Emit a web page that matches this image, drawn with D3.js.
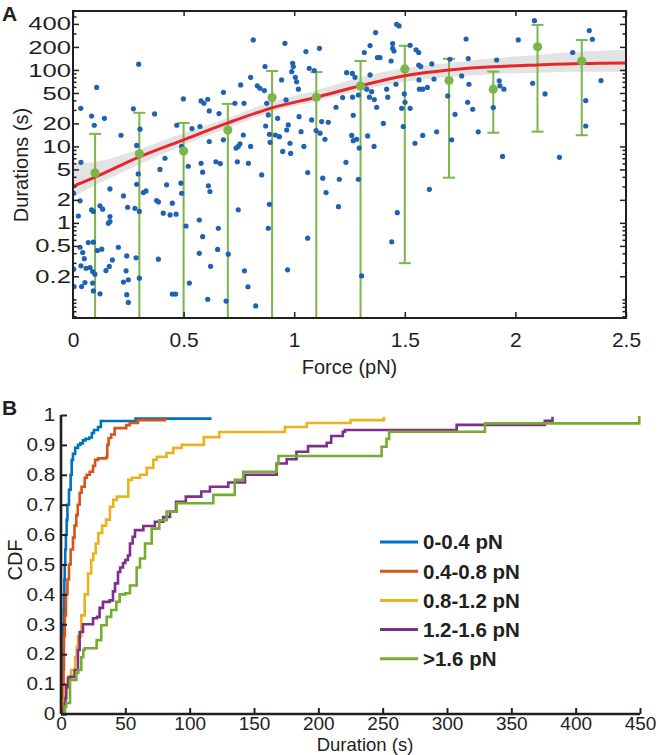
<!DOCTYPE html>
<html><head><meta charset="utf-8">
<script src="https://cdn.jsdelivr.net/npm/d3@7"></script>
<style>
body{margin:0;background:#fff}
text{font-family:"Liberation Sans",Arial,Helvetica,sans-serif;fill:#231f20}
</style>
</head><body>
<svg id="c" width="658" height="755"></svg>
<script>
// ---------- Panel A data ----------
const scatterForce = [0.035,0.084,0.096,0.107,0.142,0.036,0.217,0.273,0.297,0.288,0.303,0.369,0.469,0.499,0.491,0.521,0.538,0.574,0.579,0.592,0.609,0.616,0.616,0.660,0.680,0.680,0.732,0.758,0.773,0.737,0.747,0.755,0.770,0.793,0.803,0.803,0.815,0.833,0.845,0.865,0.868,0.871,0.876,0.883,0.888,0.891,0.915,0.925,0.933,0.943,0.948,0.958,0.963,0.966,0.973,0.981,0.984,0.989,0.993,0.996,1.005,1.011,1.019,1.022,1.031,1.044,1.053,1.068,1.079,1.091,1.099,1.114,1.117,1.124,1.139,1.154,0.416,
0.579,0.646,0.666,0.743,0.003,0.032,0.024,0.084,0.092,0.122,0.134,0.167,0.167,0.167,0.160,0.228,0.247,0.280,0.288,0.300,0.295,0.318,0.330,0.378,0.386,0.393,0.408,0.423,0.439,0.449,0.466,0.488,0.491,0.511,0.571,0.586,0.612,0.619,0.657,0.747,0.853,0.888,0.883,1.061,1.129,1.144,
0.069,0.092,0.032,0.044,0.051,0.003,0.036,0.059,0.077,0.089,0.099,0.110,0.130,0.149,0.164,0.178,0.205,0.243,0.240,0.250,0.228,0.285,0.300,0.005,0.039,0.054,0.089,0.092,0.122,0.243,0.250,0.386,0.449,0.464,0.526,0.571,0.586,0.622,0.654,0.702,0.609,0.692,0.775,0.791,0.826,0.970,1.061,
1.189,1.219,1.234,1.237,1.263,1.264,1.267,1.275,1.260,1.267,1.282,1.294,1.290,1.317,1.328,1.332,1.340,1.343,1.343,1.350,1.361,1.362,1.368,1.373,1.376,1.388,1.403,1.418,1.423,1.438,1.445,1.445,1.451,1.463,1.474,1.460,1.486,1.493,1.498,1.501,1.524,1.524,1.546,1.551,1.563,1.563,1.572,1.564,1.566,1.581,1.581,1.602,1.622,1.632,1.644,1.694,1.704,1.712,1.727,1.757,1.777,1.784,1.790,1.787,1.807,1.832,1.900,1.915,1.927,1.930,1.942,1.948,2.013,2.078,2.086,2.134,2.199,2.259,2.318,2.318,2.334,2.348,2.387,
1.204,1.200,1.290,1.305,1.441,1.466,1.611];
const scatterDuration = [31.5,25,18.9,59,23.3,6.2,14,31,119,10.3,16.8,26.6,18.9,41.8,10,5.5,17.1,18.2,39.3,36.7,41.4,29.1,11.6,26.9,51,12.2,36.7,63.7,36.7,9.5,10,10.8,14.1,6.0,10,80,247,62,57.6,53.7,111,18.5,36.7,25.8,14.4,11.3,14.1,23.3,13.4,74,8.6,223,40.5,16.4,19.1,11,8.1,95,122,111,80,70,56,24.5,15.6,10,174,105,22.2,98,16.1,192,14.9,21.1,12.4,20.7,7.0,
6.0,6.3,5.97,6.3,2.44,1.94,1.23,1.48,1.41,1.67,1.51,2.78,1.21,1.04,0.99,2.25,1.60,1.55,3.2,1.41,4.37,2.49,2.62,1.96,1.88,5.0,1.34,3.14,1.27,1.81,1.30,3.3,2.44,0.91,1.09,4.6,3.05,2.57,0.85,1.48,4.24,1.75,0.85,4.55,3.84,2.49,
0.553,0.559,0.48,0.41,0.34,0.248,0.274,0.255,0.26,0.231,0.213,0.435,0.453,0.238,0.269,0.328,0.48,0.37,0.236,0.18,0.168,0.349,0.189,0.147,0.147,0.166,0.163,0.129,0.118,0.115,0.091,0.335,0.117,0.117,0.163,0.40,0.66,0.27,0.45,0.39,0.10,0.095,0.236,0.146,0.082,0.243,0.63,
32.5,43.5,6.2,92,90,44,25.5,80,13.9,11.9,12.4,9.5,47,169,56,13.7,44,208,86,52,10,41,308,32.5,145,145,20,56,44,131,221,192,177,395,376,65,31.5,18.2,48.6,37.8,31.5,210,11,183,169,116,111,74,56,56,13.9,59,120,76,15.5,45.7,138,12.2,26.3,83.5,254,37.8,65,141,30.6,15.5,32.2,135,72,62,7.4,56,247,67,441,48.6,7.2,169,39.7,18.5,327,252,72.6,
3.72,1.63,3.72,0.203,0.565,1.36,2.75];

const binForce = [0.1,0.3,0.5,0.7,0.9,1.1,1.3,1.5,1.7,1.9,2.1,2.3];
const binMean  = [4.5,8.0,8.7,16.4,43.5,43.8,61.7,103,72.5,56,201,131];
const binUpper = [14.6,27.5,20.2,36,97,93.7,131,207,140,95,388,246];
const binLower = [0.01,0.01,0.01,0.01,0.01,0.01,0.01,0.297,3.9,15.1,15.6,14];

const fitForce    = [0,0.1,0.3,0.5,0.7,0.9,1.1,1.3,1.5,1.7,1.9,2.1,2.3,2.5];
const fitDuration = [3.0,3.96,7.3,12.2,20.3,31.9,44,62,84,100,110,116,121,123];
const bandLower   = [2.2,3.1,5.8,10.4,17.4,28.5,39,54,70,81,88,92,95,95];
const bandUpper   = [6.0,6.3,9.2,15,23.6,38.5,54,80,106,123,142,157,174,183];

const xTicksA = [0,0.5,1,1.5,2,2.5];
const yTicksA = [0.2,0.5,1,2,5,10,20,50,100,200,400];
const yMinorA = [0.06,0.07,0.08,0.09,0.1,0.3,0.4,0.6,0.7,0.8,0.9,3,4,6,7,8,9,30,40,60,70,80,90,300,500];

// ---------- Panel B data ----------
const cdfLabels = ["0-0.4 pN","0.4-0.8 pN","0.8-1.2 pN","1.2-1.6 pN",">1.6 pN"];
const cdfColors = ["#0072BD","#D95319","#EDB120","#7E2F8E","#77AC30"];
const cdfBlue = [[0,0],[0.5,0.05],[0.8,0.1],[1.0,0.15],[1.3,0.2],[1.6,0.25],[1.8,0.3],[2.1,0.35],[2.3,0.4],[2.6,0.45],[2.9,0.5],[3.3,0.55],[3.8,0.6],[4.4,0.65],[5.0,0.7],[6.2,0.75],[7.5,0.8],[8.3,0.85],[9.3,0.87],[11,0.89],[13.2,0.9],[15,0.905],[17,0.915],[19,0.92],[22,0.925],[24,0.94],[25.6,0.95],[28.8,0.96],[31,0.98],[58,0.988],[117,0.988]];
const cdfOrange = [[0,0],[1.3,0.05],[2,0.15],[2.3,0.26],[3,0.33],[3.9,0.4],[5,0.45],[6.2,0.5],[7.5,0.55],[9.3,0.59],[10.5,0.63],[11.9,0.665],[13,0.7],[14.5,0.74],[16,0.76],[18.4,0.79],[20,0.8],[22.3,0.81],[24.9,0.83],[26.5,0.85],[28.8,0.855],[35.2,0.86],[36,0.9],[37,0.923],[39,0.935],[41.7,0.956],[50.7,0.966],[53.4,0.973],[59.8,0.983],[80.8,0.993]];
const cdfYellow = [[0,0],[2.3,0.04],[2.9,0.09],[5.4,0.124],[8,0.147],[11,0.19],[12.2,0.224],[13.2,0.26],[15.8,0.33],[18.4,0.40],[21,0.47],[23.5,0.515],[25.1,0.537],[27,0.57],[29,0.605],[32,0.63],[35,0.65],[38,0.693],[40.6,0.716],[43.3,0.727],[52.3,0.783],[55,0.79],[61.4,0.80],[66.6,0.823],[71.7,0.85],[74.4,0.86],[82,0.873],[87.3,0.89],[93.8,0.90],[111,0.926],[123,0.943],[174,0.96],[191,0.973],[225,0.983],[251,0.994]];
const cdfPurple = [[0,0],[2.9,0.037],[3.5,0.053],[4.1,0.09],[5.5,0.12],[6.8,0.124],[10.6,0.147],[13.2,0.214],[14.5,0.274],[17.1,0.30],[24.9,0.32],[28,0.325],[30,0.355],[32.6,0.375],[37.8,0.38],[40.4,0.41],[42,0.437],[44.3,0.475],[46,0.49],[48.2,0.505],[50,0.515],[52,0.53],[53.6,0.57],[55.7,0.593],[57.5,0.615],[64,0.629],[73,0.643],[79.5,0.659],[84.7,0.677],[89.4,0.71],[97,0.727],[109,0.744],[115.8,0.76],[130,0.774],[143,0.80],[167.6,0.838],[175.4,0.852],[183,0.877],[192,0.896],[206.5,0.907],[210,0.93],[219,0.944],[220.7,0.95],[307.5,0.967],[376,0.981],[382,0.994]];
const cdfGreen = [[0,0],[3.1,0.024],[4.1,0.037],[7,0.114],[11.9,0.137],[13.4,0.147],[15.8,0.19],[17.3,0.214],[18.4,0.22],[27.7,0.247],[31.3,0.297],[35.5,0.325],[39,0.348],[43,0.375],[45.6,0.40],[50,0.404],[53.6,0.43],[58.8,0.49],[61.4,0.52],[65.3,0.57],[70.5,0.62],[76.4,0.648],[82.1,0.677],[90,0.705],[118.4,0.733],[135,0.783],[141.7,0.81],[167.6,0.836],[169,0.863],[249.2,0.894],[253,0.92],[255,0.944],[329.5,0.972],[449.4,0.997]];
const cdfSeries = [cdfBlue,cdfOrange,cdfYellow,cdfPurple,cdfGreen];
const xTicksB = [0,50,100,150,200,250,300,350,400,450];
const yTicksB = [0,0.1,0.2,0.3,0.4,0.5,0.6,0.7,0.8,0.9,1];

// ---------- drawing ----------
const svg = d3.select("#c");
const FS = 20;

// ===== Panel A =====
const xA = d3.scaleLinear().domain([0,2.5]).range([73,626]);
const yA = d3.scaleLog().domain([0.057,590]).range([318,11]);
const gA = svg.append("g");
gA.append("defs").append("clipPath").attr("id","clipA")
  .append("rect").attr("x",xA(0)).attr("y",yA(590)).attr("width",xA(2.5)-xA(0)).attr("height",yA(0.057)-yA(590));
const plotA = gA.append("g").attr("clip-path","url(#clipA)");

const band = d3.area().x((d,i)=>xA(fitForce[i])).y0((d,i)=>yA(bandLower[i])).y1((d,i)=>yA(bandUpper[i])).curve(d3.curveMonotoneX);
plotA.append("path").datum(fitForce).attr("d",band).attr("fill","#e3e3e3");

const green = "#7cb54a";
binForce.forEach((f,i)=>{
  plotA.append("line").attr("x1",xA(f)).attr("x2",xA(f)).attr("y1",yA(binLower[i])).attr("y2",yA(binUpper[i]))
    .attr("stroke",green).attr("stroke-width",2);
  [binUpper[i],binLower[i]].forEach(v=>{
    plotA.append("line").attr("x1",xA(f)-6).attr("x2",xA(f)+6).attr("y1",yA(v)).attr("y2",yA(v))
      .attr("stroke",green).attr("stroke-width",2);
  });
});

plotA.append("g").selectAll("circle").data(scatterForce).join("circle")
  .attr("cx",(d)=>xA(d)).attr("cy",(d,i)=>yA(scatterDuration[i])).attr("r",2.6).attr("fill","#1f62b3");

const fitLine = d3.line().x((d,i)=>xA(fitForce[i])).y((d,i)=>yA(fitDuration[i])).curve(d3.curveMonotoneX);
plotA.append("path").datum(fitForce).attr("d",fitLine).attr("fill","none").attr("stroke","#e8262a").attr("stroke-width",3);

plotA.append("g").selectAll("circle").data(binForce).join("circle")
  .attr("cx",d=>xA(d)).attr("cy",(d,i)=>yA(binMean[i])).attr("r",4.6).attr("fill",green);

function styleAxis(g, fs, sx){
  g.select(".domain").remove();
  g.selectAll("line").attr("stroke","#231f20").attr("stroke-width",1.5);
  const t = g.selectAll("text").attr("font-size",fs||FS).attr("fill","#231f20").attr("font-family","Liberation Sans, Arial, sans-serif");
  if (sx) t.attr("transform",`scale(${sx},1)`);
}
gA.append("g").attr("transform",`translate(0,${yA(0.057)})`)
  .call(d3.axisBottom(xA).tickValues(xTicksA).tickSizeInner(-6).tickSizeOuter(0).tickPadding(14).tickFormat(d3.format("")))
  .call(g=>styleAxis(g,21));
gA.append("g").attr("transform",`translate(0,${yA(590)})`)
  .call(d3.axisTop(xA).tickValues(xTicksA).tickSizeInner(-5).tickSizeOuter(0).tickFormat(""))
  .call(g=>styleAxis(g));
gA.append("g").attr("transform",`translate(${xA(0)},0)`)
  .call(d3.axisLeft(yA).tickValues(yTicksA).tickSizeInner(-6).tickSizeOuter(0).tickPadding(1.5).tickFormat(d=>String(d)))
  .call(g=>styleAxis(g,19,1.35));
gA.append("g").attr("transform",`translate(${xA(0)},0)`)
  .call(d3.axisLeft(yA).tickValues(yMinorA).tickSizeInner(-3.5).tickSizeOuter(0).tickFormat(""))
  .call(g=>styleAxis(g));
gA.append("g").attr("transform",`translate(${xA(2.5)},0)`)
  .call(d3.axisRight(yA).tickValues(yTicksA).tickSizeInner(-6).tickSizeOuter(0).tickFormat(""))
  .call(g=>styleAxis(g));
gA.append("g").attr("transform",`translate(${xA(2.5)},0)`)
  .call(d3.axisRight(yA).tickValues(yMinorA).tickSizeInner(-3.5).tickSizeOuter(0).tickFormat(""))
  .call(g=>styleAxis(g));
gA.append("rect").attr("x",xA(0)).attr("y",yA(590)).attr("width",xA(2.5)-xA(0)).attr("height",yA(0.057)-yA(590))
  .attr("fill","none").attr("stroke","#231f20").attr("stroke-width",2);

gA.append("text").attr("x",(xA(0)+xA(2.5))/2).attr("y",374).attr("text-anchor","middle").attr("font-size",FS).text("Force (pN)");
gA.append("text").attr("transform","translate(28,165) rotate(-90)").attr("text-anchor","middle").attr("font-size",FS).text("Durations (s)");
gA.append("text").attr("x",2).attr("y",21).attr("font-size",21).attr("font-weight","bold").text("A");

// ===== Panel B =====
const xB = d3.scaleLinear().domain([0,450]).range([61,640]);
const yB = d3.scaleLinear().domain([0,1]).range([714,415]);
const gB = svg.append("g");
const stepLine = d3.line().x(d=>xB(d[0])).y(d=>yB(d[1])).curve(d3.curveStepAfter);
cdfSeries.forEach((s,i)=>{
  gB.append("path").datum(s).attr("d",stepLine).attr("fill","none").attr("stroke",cdfColors[i]).attr("stroke-width",2.6);
});
gB.append("g").attr("transform",`translate(0,${yB(0)})`)
  .call(d3.axisBottom(xB).tickValues(xTicksB).tickSizeInner(-6).tickSizeOuter(0).tickPadding(2.5).tickFormat(d3.format("")))
  .call(g=>styleAxis(g,19));
gB.append("g").attr("transform",`translate(${xB(0)},0)`)
  .call(d3.axisLeft(yB).tickValues(yTicksB).tickSizeInner(-6).tickSizeOuter(0).tickPadding(5).tickFormat(d=>d===0?"0":d===1?"1":d3.format(".1f")(d)))
  .call(g=>styleAxis(g,18,1.15));
gB.selectAll(".tick line").attr("stroke-width",2);
gB.append("line").attr("x1",xB(0)).attr("x2",xB(450)).attr("y1",yB(0)).attr("y2",yB(0)).attr("stroke","#231f20").attr("stroke-width",2.6);
gB.append("line").attr("x1",xB(0)).attr("x2",xB(0)).attr("y1",yB(0)).attr("y2",yB(1)).attr("stroke","#231f20").attr("stroke-width",2.6);

gB.append("text").attr("x",365).attr("y",751).attr("text-anchor","middle").attr("font-size",18.5).text("Duration (s)");
gB.append("text").attr("transform","translate(22,560) rotate(-90)").attr("text-anchor","middle").attr("font-size",FS).text("CDF");
gB.append("text").attr("x",2).attr("y",415).attr("font-size",21).attr("font-weight","bold").text("B");

const lg = gB.append("g");
cdfLabels.forEach((lab,i)=>{
  const y = 542 + i*29.2;
  lg.append("line").attr("x1",380).attr("x2",418).attr("y1",y).attr("y2",y).attr("stroke",cdfColors[i]).attr("stroke-width",3);
  lg.append("text").attr("x",423).attr("y",y).attr("dy","0.36em").attr("font-size",20.5).attr("font-weight","bold").text(lab);
});
</script>
</body></html>
